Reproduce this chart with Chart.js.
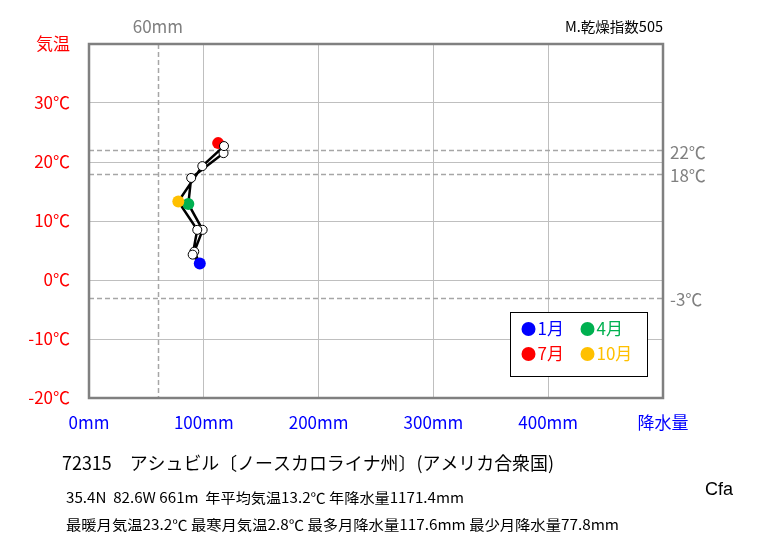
<!DOCTYPE html>
<html lang="ja">
<head>
<meta charset="utf-8">
<title>アシュビル 雨温図</title>
<script src="https://cdn.jsdelivr.net/npm/chart.js@4/dist/chart.umd.min.js"></script>
<style>
  html, body { margin: 0; padding: 0; background: #fff; }
  #wrap { width: 763px; height: 545px; }
</style>
</head>
<body>
<div id="wrap"><canvas id="c" width="763" height="545"></canvas></div>
<script>
// Monthly climate normals (precipitation mm, mean temperature °C)
const months = ['1月','2月','3月','4月','5月','6月','7月','8月','9月','10月','11月','12月'];
const precip = [96.5, 91.7, 99.0, 86.5, 89.0, 117.2, 112.5, 117.6, 98.7, 77.8, 94.3, 90.3];
const temp   = [2.8, 4.8, 8.5, 12.9, 17.3, 21.5, 23.2, 22.7, 19.3, 13.3, 8.5, 4.3];

// Highlighted months and their colours
const keyMonths = [0, 3, 6, 9];
const keyColors = ['#0000ff', '#00b050', '#ff0000', '#ffc000'];

// Reference lines
const tempLines = [22, 18, -3];
const precipLines = [60];

// Axis ticks
const xTicks = [0, 100, 200, 300, 400, 500];
const yTicks = [-20, -10, 0, 10, 20, 30, 40];

const title = '72315　アシュビル〔ノースカロライナ州〕(アメリカ合衆国)';
const info1 = '35.4N  82.6W 661m  年平均気温13.2℃ 年降水量1171.4mm';
const info2 = '最暖月気温23.2℃ 最寒月気温2.8℃ 最多月降水量117.6mm 最少月降水量77.8mm';
const dryIndex = 'M.乾燥指数505';
const climateType = 'Cfa';

const JP = '"Noto Sans CJK JP", "Noto Sans", sans-serif';

const points = precip.map((p, i) => ({ x: p, y: temp[i] }));
const loop = points.concat([points[0]]);

const ptColor = months.map((m, i) => {
  const k = keyMonths.indexOf(i);
  return k >= 0 ? keyColors[k] : '#ffffff';
});
const ptRadius = months.map((m, i) => keyMonths.indexOf(i) >= 0 ? 6 : 4.5);
const ptBorder = months.map((m, i) => keyMonths.indexOf(i) >= 0 ? 0 : 1);

// draw text stretched horizontally to a given width (left aligned)
function fitText(ctx, text, x, y, width) {
  const w = ctx.measureText(text).width;
  ctx.save();
  ctx.translate(x, y);
  ctx.scale(width / w, 1);
  ctx.fillText(text, 0, 0);
  ctx.restore();
}

const extras = {
  id: 'extras',
  beforeDatasetsDraw(chart) {
    const { ctx, chartArea: a, scales: { x, y } } = chart;
    ctx.save();
    ctx.strokeStyle = '#a6a6a6';
    ctx.lineWidth = 1.5;
    ctx.setLineDash([5, 3]);
    tempLines.forEach(t => {
      const py = Math.round(y.getPixelForValue(t)) + 0.5;
      ctx.beginPath(); ctx.moveTo(a.left, py); ctx.lineTo(a.right + 2, py); ctx.stroke();
    });
    precipLines.forEach(p => {
      const px = Math.round(x.getPixelForValue(p)) + 0.5;
      ctx.beginPath(); ctx.moveTo(px, a.top); ctx.lineTo(px, a.bottom); ctx.stroke();
    });
    ctx.setLineDash([]);
    ctx.fillStyle = '#808080';
    ctx.font = '17px ' + JP;
    ctx.textBaseline = 'middle';
    ctx.textAlign = 'left';
    tempLines.forEach(t => {
      ctx.fillText(t + '℃', a.right + 7, y.getPixelForValue(t) + 2);
    });
    ctx.textAlign = 'center';
    precipLines.forEach(p => {
      ctx.fillText(p + 'mm', x.getPixelForValue(p), 27);
    });
    ctx.restore();
  },
  afterDraw(chart) {
    const { ctx, chartArea: a } = chart;
    ctx.save();
    // plot frame
    ctx.strokeStyle = '#808080';
    ctx.lineWidth = 2.5;
    ctx.strokeRect(a.left, a.top, a.right - a.left, a.bottom - a.top);

    // key box
    ctx.fillStyle = '#ffffff';
    ctx.fillRect(510, 312, 137, 64);
    ctx.strokeStyle = '#000000';
    ctx.lineWidth = 1;
    ctx.strokeRect(510.5, 312.5, 137, 64);
    ctx.font = '17px ' + JP;
    ctx.textBaseline = 'middle';
    ctx.textAlign = 'left';
    keyMonths.forEach((m, k) => {
      const cx = 528.5 + (k % 2) * 59;
      const cy = 329 + Math.floor(k / 2) * 25;
      ctx.fillStyle = keyColors[k];
      ctx.beginPath(); ctx.arc(cx, cy, 7, 0, Math.PI * 2); ctx.fill();
      ctx.fillText(months[m], cx + 9, cy);
    });

    // header / footer texts
    ctx.fillStyle = '#000000';
    ctx.font = '14px ' + JP;
    fitText(ctx, dryIndex, 565, 27, 98);
    ctx.font = '18px ' + JP;
    fitText(ctx, title, 62, 463, 492);
    ctx.font = '14px ' + JP;
    fitText(ctx, info1, 66, 498, 398);
    fitText(ctx, info2, 66, 525, 553);
    ctx.font = '18px "Liberation Sans", Arial, sans-serif';
    ctx.fillText(climateType, 705, 490);
    ctx.restore();
  }
};

new Chart(document.getElementById('c'), {
  type: 'scatter',
  data: {
    datasets: [
      {
        data: loop,
        order: 1,
        showLine: true,
        borderColor: '#000000',
        borderWidth: 2.5,
        pointRadius: 0,
        tension: 0
      },
      {
        data: points,
        order: 0,
        showLine: false,
        pointRadius: ptRadius,
        pointBackgroundColor: ptColor,
        pointBorderColor: '#000000',
        pointBorderWidth: ptBorder
      }
    ]
  },
  options: {
    responsive: false,
    animation: false,
    devicePixelRatio: 1,
    layout: { padding: { top: 44, right: 100, left: 0, bottom: 0 } },
    plugins: { legend: { display: false }, tooltip: { enabled: false } },
    scales: {
      x: {
        type: 'linear',
        min: 0, max: 500,
        afterBuildTicks(s) { s.ticks = xTicks.map(v => ({ value: v })); },
        afterFit(s) { s.height = 147; },
        grid: { color: '#bfbfbf', lineWidth: 1, drawTicks: false },
        border: { display: false },
        ticks: {
          padding: 14,
          color: '#0000ff',
          font: { family: JP, size: 17 },
          maxRotation: 0,
          callback: v => v === 500 ? '降水量' : v + 'mm'
        }
      },
      y: {
        type: 'linear',
        min: -20, max: 40,
        afterBuildTicks(s) { s.ticks = yTicks.map(v => ({ value: v })); },
        afterFit(s) { s.width = 89; },
        grid: { color: '#bfbfbf', lineWidth: 1, drawTicks: false },
        border: { display: false },
        ticks: {
          padding: 19,
          color: '#ff0000',
          font: { family: JP, size: 17 },
          callback: v => v === 40 ? '気温' : v + '℃'
        }
      }
    }
  },
  plugins: [extras]
});
</script>
</body>
</html>
